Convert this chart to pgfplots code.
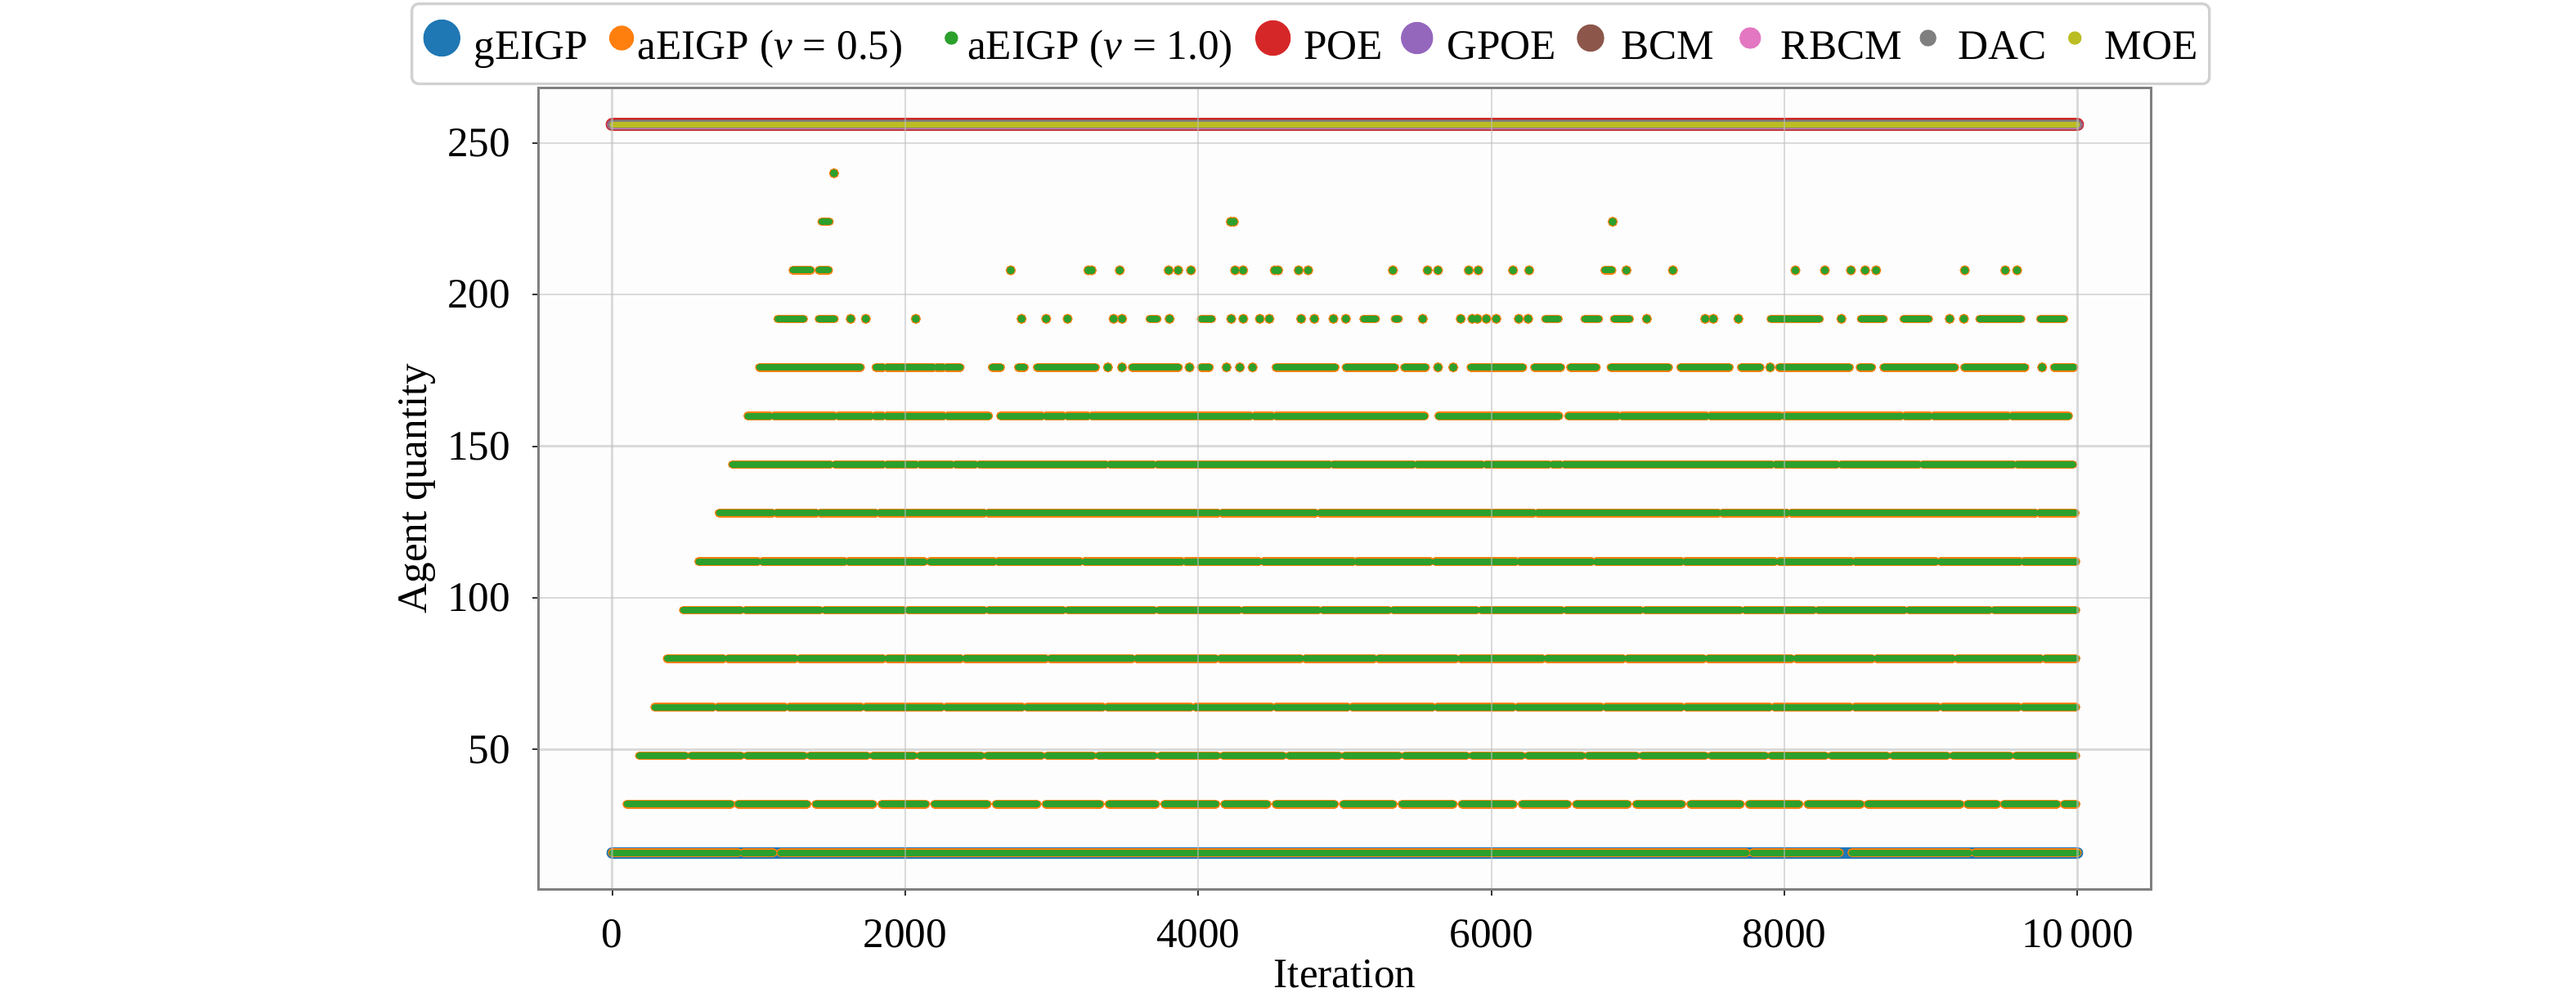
\documentclass[border=0pt]{standalone}
\usepackage{fontspec}
\setmainfont{Liberation Serif}
\usepackage{pgfplots}
\usepackage{pgfplotstable}
\pgfplotsset{compat=1.18}
\definecolor{c0}{HTML}{1F77B4}
\definecolor{c1}{HTML}{FF7F0E}
\definecolor{c2}{HTML}{2CA02C}
\definecolor{c3}{HTML}{D62728}
\definecolor{c4}{HTML}{9467BD}
\definecolor{c5}{HTML}{8C564B}
\definecolor{c6}{HTML}{E377C2}
\definecolor{c7}{HTML}{7F7F7F}
\definecolor{c8}{HTML}{BCBD22}
\pgfplotsset{lgimg/.style n args={4}{legend image code/.code={\path (0pt,0pt) (#1,0pt); \fill[#4] (#2,3.3pt) circle (#3);}}}

% gEIGP (constant at 16)
\pgfplotstableread[row sep=\\]{x y\\ 0 16\\ 10000 16\\}\gtab
% POE, GPOE, BCM, RBCM, DAC, MOE (constant at 256)
\pgfplotstableread[row sep=\\]{x y\\ 0 256\\ 10000 256\\}\toptab
% aEIGP: dense runs of points (start, end of each run)
\pgfplotstableread[row sep=\\]{x y\\
0 16\\ 860 16\\ nan nan\\ 895 16\\ 1100 16\\ nan nan\\ 1150 16\\ 7740 16\\ nan nan\\ 7785 16\\ 8375 16\\ nan nan\\ 8460 16\\ 9260 16\\ nan nan\\ 9300 16\\ 10000 16\\ nan nan\\
100 32\\ 810 32\\ nan nan\\ 860 32\\ 1330 32\\ nan nan\\ 1390 32\\ 1780 32\\ nan nan\\ 1840 32\\ 2140 32\\ nan nan\\ 2200 32\\ 2560 32\\ nan nan\\ 2620 32\\ 2900 32\\ nan nan\\ 2960 32\\ 3330 32\\ nan nan\\ 3390 32\\ 3710 32\\ nan nan\\ 3770 32\\ 4120 32\\ nan nan\\ 4180 32\\ 4470 32\\ nan nan\\ 4530 32\\ 4930 32\\ nan nan\\ 4990 32\\ 5330 32\\ nan nan\\ 5390 32\\ 5740 32\\ nan nan\\ 5800 32\\ 6150 32\\ nan nan\\ 6210 32\\ 6520 32\\ nan nan\\ 6580 32\\ 6930 32\\ nan nan\\ 6990 32\\ 7300 32\\ nan nan\\ 7360 32\\ 7700 32\\ nan nan\\ 7760 32\\ 8100 32\\ nan nan\\ 8160 32\\ 8520 32\\ nan nan\\ 8570 32\\ 9200 32\\ nan nan\\ 9250 32\\ 9450 32\\ nan nan\\ 9500 32\\ 9860 32\\ nan nan\\ 9910 32\\ 9990 32\\ nan nan\\
185 48\\ 500 48\\ nan nan\\ 540 48\\ 880 48\\ nan nan\\ 920 48\\ 1310 48\\ nan nan\\ 1350 48\\ 1740 48\\ nan nan\\ 1780 48\\ 2060 48\\ nan nan\\ 2100 48\\ 2520 48\\ nan nan\\ 2560 48\\ 2930 48\\ nan nan\\ 2970 48\\ 3280 48\\ nan nan\\ 3320 48\\ 3700 48\\ nan nan\\ 3740 48\\ 4130 48\\ nan nan\\ 4170 48\\ 4580 48\\ nan nan\\ 4620 48\\ 4960 48\\ nan nan\\ 5000 48\\ 5370 48\\ nan nan\\ 5410 48\\ 5830 48\\ nan nan\\ 5870 48\\ 6210 48\\ nan nan\\ 6250 48\\ 6620 48\\ nan nan\\ 6660 48\\ 6990 48\\ nan nan\\ 7030 48\\ 7460 48\\ nan nan\\ 7500 48\\ 7870 48\\ nan nan\\ 7910 48\\ 8280 48\\ nan nan\\ 8320 48\\ 8700 48\\ nan nan\\ 8740 48\\ 9110 48\\ nan nan\\ 9150 48\\ 9540 48\\ nan nan\\ 9580 48\\ 9990 48\\ nan nan\\
290 64\\ 690 64\\ nan nan\\ 720 64\\ 1180 64\\ nan nan\\ 1210 64\\ 1700 64\\ nan nan\\ 1730 64\\ 2250 64\\ nan nan\\ 2280 64\\ 2800 64\\ nan nan\\ 2830 64\\ 3350 64\\ nan nan\\ 3380 64\\ 3950 64\\ nan nan\\ 3980 64\\ 4500 64\\ nan nan\\ 4530 64\\ 5020 64\\ nan nan\\ 5050 64\\ 5600 64\\ nan nan\\ 5630 64\\ 6150 64\\ nan nan\\ 6180 64\\ 6750 64\\ nan nan\\ 6780 64\\ 7300 64\\ nan nan\\ 7330 64\\ 7900 64\\ nan nan\\ 7930 64\\ 8450 64\\ nan nan\\ 8480 64\\ 9050 64\\ nan nan\\ 9080 64\\ 9600 64\\ nan nan\\ 9630 64\\ 9990 64\\ nan nan\\
375 80\\ 760 80\\ nan nan\\ 790 80\\ 1250 80\\ nan nan\\ 1280 80\\ 1850 80\\ nan nan\\ 1880 80\\ 2380 80\\ nan nan\\ 2410 80\\ 2960 80\\ nan nan\\ 2990 80\\ 3550 80\\ nan nan\\ 3580 80\\ 4120 80\\ nan nan\\ 4150 80\\ 4700 80\\ nan nan\\ 4730 80\\ 5200 80\\ nan nan\\ 5230 80\\ 5760 80\\ nan nan\\ 5790 80\\ 6350 80\\ nan nan\\ 6380 80\\ 6900 80\\ nan nan\\ 6930 80\\ 7450 80\\ nan nan\\ 7480 80\\ 8050 80\\ nan nan\\ 8080 80\\ 8600 80\\ nan nan\\ 8630 80\\ 9150 80\\ nan nan\\ 9180 80\\ 9750 80\\ nan nan\\ 9780 80\\ 9990 80\\ nan nan\\
485 96\\ 880 96\\ nan nan\\ 910 96\\ 1420 96\\ nan nan\\ 1450 96\\ 1990 96\\ nan nan\\ 2020 96\\ 2540 96\\ nan nan\\ 2570 96\\ 3080 96\\ nan nan\\ 3110 96\\ 3700 96\\ nan nan\\ 3730 96\\ 4280 96\\ nan nan\\ 4310 96\\ 4820 96\\ nan nan\\ 4850 96\\ 5300 96\\ nan nan\\ 5330 96\\ 5900 96\\ nan nan\\ 5930 96\\ 6480 96\\ nan nan\\ 6510 96\\ 7020 96\\ nan nan\\ 7050 96\\ 7700 96\\ nan nan\\ 7730 96\\ 8200 96\\ nan nan\\ 8230 96\\ 8820 96\\ nan nan\\ 8850 96\\ 9400 96\\ nan nan\\ 9430 96\\ 9990 96\\ nan nan\\
590 112\\ 995 112\\ nan nan\\ 1025 112\\ 1588 112\\ nan nan\\ 1613 112\\ 2130 112\\ nan nan\\ 2170 112\\ 2608 112\\ nan nan\\ 2633 112\\ 3195 112\\ nan nan\\ 3225 112\\ 3888 112\\ nan nan\\ 3913 112\\ 4415 112\\ nan nan\\ 4445 112\\ 5058 112\\ nan nan\\ 5083 112\\ 5583 112\\ nan nan\\ 5618 112\\ 6168 112\\ nan nan\\ 6193 112\\ 6685 112\\ nan nan\\ 6715 112\\ 7298 112\\ nan nan\\ 7323 112\\ 7935 112\\ nan nan\\ 7965 112\\ 8458 112\\ nan nan\\ 8483 112\\ 9035 112\\ nan nan\\ 9065 112\\ 9608 112\\ nan nan\\ 9633 112\\ 9990 112\\ nan nan\\
730 128\\ 1095 128\\ nan nan\\ 1120 128\\ 1395 128\\ nan nan\\ 1420 128\\ 1800 128\\ nan nan\\ 1825 128\\ 2540 128\\ nan nan\\ 2565 128\\ 4135 128\\ nan nan\\ 4160 128\\ 4800 128\\ nan nan\\ 4830 128\\ 6290 128\\ nan nan\\ 6315 128\\ 7550 128\\ nan nan\\ 7575 128\\ 8020 128\\ nan nan\\ 8045 128\\ 9715 128\\ nan nan\\ 9740 128\\ 9985 128\\ nan nan\\
820 144\\ 1490 144\\ nan nan\\ 1520 144\\ 1850 144\\ nan nan\\ 1875 144\\ 2075 144\\ nan nan\\ 2100 144\\ 2318 144\\ nan nan\\ 2343 144\\ 2480 144\\ nan nan\\ 2505 144\\ 3370 144\\ nan nan\\ 3395 144\\ 3695 144\\ nan nan\\ 3720 144\\ 4895 144\\ nan nan\\ 4920 144\\ 5468 144\\ nan nan\\ 5493 144\\ 5938 144\\ nan nan\\ 5963 144\\ 6392 144\\ nan nan\\ 6417 144\\ 6473 144\\ nan nan\\ 6498 144\\ 7914 144\\ nan nan\\ 7939 144\\ 8360 144\\ nan nan\\ 8386 144\\ 8918 144\\ nan nan\\ 8943 144\\ 9563 144\\ nan nan\\ 9588 144\\ 9970 144\\ nan nan\\
925 160\\ 1078 160\\ nan nan\\ 1102 160\\ 1518 160\\ nan nan\\ 1542 160\\ 1768 160\\ nan nan\\ 1792 160\\ 1849 160\\ nan nan\\ 1873 160\\ 2264 160\\ nan nan\\ 2288 160\\ 2570 160\\ nan nan\\ 2650 160\\ 2934 160\\ nan nan\\ 2958 160\\ 3080 160\\ nan nan\\ 3104 160\\ 3248 160\\ nan nan\\ 3272 160\\ 4359 160\\ nan nan\\ 4383 160\\ 4505 160\\ nan nan\\ 4529 160\\ 5545 160\\ nan nan\\ 5640 160\\ 6462 160\\ nan nan\\ 6526 160\\ 6865 160\\ nan nan\\ 6889 160\\ 7470 160\\ nan nan\\ 7494 160\\ 7972 160\\ nan nan\\ 7996 160\\ 8798 160\\ nan nan\\ 8822 160\\ 8993 160\\ nan nan\\ 9017 160\\ 9528 160\\ nan nan\\ 9552 160\\ 9940 160\\ nan nan\\
1005 176\\ 1695 176\\ nan nan\\ 1800 176\\ 1850 176\\ nan nan\\ 1875 176\\ 2195 176\\ nan nan\\ 2215 176\\ 2260 176\\ nan nan\\ 2280 176\\ 2375 176\\ nan nan\\ 2594 176\\ 2651 176\\ nan nan\\ 2772 176\\ 2813 176\\ nan nan\\ 2901 176\\ 3299 176\\ nan nan\\ 3549 176\\ 3865 176\\ nan nan\\ 4020 176\\ 4076 176\\ nan nan\\ 4530 176\\ 4934 176\\ nan nan\\ 5008 176\\ 5341 176\\ nan nan\\ 5407 176\\ 5551 176\\ nan nan\\ 5860 176\\ 6215 176\\ nan nan\\ 6294 176\\ 6474 176\\ nan nan\\ 6540 176\\ 6717 176\\ nan nan\\ 6816 176\\ 7210 176\\ nan nan\\ 7292 176\\ 7624 176\\ nan nan\\ 7706 176\\ 7835 176\\ nan nan\\ 7965 176\\ 8444 176\\ nan nan\\ 8516 176\\ 8596 176\\ nan nan\\ 8678 176\\ 9163 176\\ nan nan\\ 9229 176\\ 9642 176\\ nan nan\\ 9841 176\\ 9975 176\\ nan nan\\
1130 192\\ 1307 192\\ nan nan\\ 1411 192\\ 1517 192\\ nan nan\\ 3669 192\\ 3720 192\\ nan nan\\ 4019 192\\ 4092 192\\ nan nan\\ 5128 192\\ 5211 192\\ nan nan\\ 5342 192\\ 5367 192\\ nan nan\\ 6369 192\\ 6458 192\\ nan nan\\ 6637 192\\ 6733 192\\ nan nan\\ 6838 192\\ 6944 192\\ nan nan\\ 7907 192\\ 8240 192\\ nan nan\\ 8523 192\\ 8677 192\\ nan nan\\ 8814 192\\ 8985 192\\ nan nan\\ 9332 192\\ 9616 192\\ nan nan\\ 9747 192\\ 9908 192\\ nan nan\\
1233 208\\ 1355 208\\ nan nan\\ 1411 208\\ 1478 208\\ nan nan\\ 6773 208\\ 6824 208\\ nan nan\\
1430 224\\ 1483 224\\ nan nan\\
}\runs
% aEIGP: isolated points
\pgfplotstableread[row sep=\\]{x y\\
3383 176\\ 3480 176\\ 3940 176\\ 4193 176\\ 4284 176\\ 4371 176\\ 5636 176\\ 5740 176\\ 7903 176\\ 9759 176\\
1628 192\\ 1731 192\\ 2072 192\\ 2794 192\\ 2962 192\\ 3108 192\\ 3422 192\\ 3480 192\\ 3804 192\\ 4225 192\\ 4307 192\\ 4420 192\\ 4485 192\\ 4702 192\\ 4792 192\\ 4922 192\\ 5007 192\\ 5532 192\\ 5791 192\\ 5870 192\\ 5905 192\\ 5966 192\\ 6034 192\\ 6187 192\\ 6251 192\\ 7061 192\\ 7459 192\\ 7515 192\\ 7686 192\\ 8389 192\\ 9128 192\\ 9225 192\\
2720 208\\ 3250 208\\ 3272 208\\ 3464 208\\ 3798 208\\ 3863 208\\ 3950 208\\ 4251 208\\ 4306 208\\ 4522 208\\ 4545 208\\ 4685 208\\ 4750 208\\ 5328 208\\ 5565 208\\ 5636 208\\ 5846 208\\ 5911 208\\ 6148 208\\ 6258 208\\ 6922 208\\ 7239 208\\ 8075 208\\ 8276 208\\ 8454 208\\ 8551 208\\ 8626 208\\ 9231 208\\ 9507 208\\ 9588 208\\
4222 224\\ 4242 224\\ 6828 224\\
1514 240\\
}\pts

\begin{document}
\fontsize{12.3pt}{14pt}\selectfont
\begin{tikzpicture}
\useasboundingbox (-158.16pt,-34.08pt) rectangle (597.84pt,260.88pt);
\begin{axis}[
  scale only axis, width=473.04pt, height=234.96pt,
  xmin=-500, xmax=10500, ymin=4, ymax=268,
  xtick={0,2000,4000,6000,8000,10000},
  xticklabels={0,2000,4000,6000,8000,10\,000},
  ytick={50,100,150,200,250},
  xtick pos=bottom, ytick pos=left,
  /pgf/number format/assume math mode=true,
  tick align=outside, major tick length=1.92pt,
  tick style={color=black!80, line width=0.5pt},
  axis line style={color=black!50, line width=0.72pt},
  grid=major, major grid style={color=black!25, line width=0.55pt, opacity=0.55},
  axis on top,
  axis background/.style={fill=black!0.8},
  xticklabel style={anchor=base, inner sep=0pt, yshift=-15.12pt},
  yticklabel style={anchor=east, inner sep=0pt, xshift=-6.24pt},
  xlabel={Iteration}, ylabel={Agent quantity},
  xlabel style={at={(axis description cs:0.5,-0.1230)}, anchor=base, inner sep=0pt},
  ylabel style={at={(axis description cs:-0.06955,0.5)}, anchor=base, inner sep=0pt},
  unbounded coords=jump,
  legend columns=9,
  legend cell align=left,
  legend style={at={(axis description cs:-0.07966,1.10725)}, anchor=north west,
    draw=black!18, line width=0.8pt, rounded corners=2pt, fill=white,
    inner xsep=3.36pt, inner ysep=4.6pt,
    /tikz/column sep=0pt,
    nodes={inner sep=0pt, text height=8.5pt, text depth=2.6pt}},
]
\addplot[forget plot, c0, line width=3.36pt, line cap=round] table {\gtab};
\addplot[forget plot, c1, line width=2.56pt, line cap=round] table {\runs};
\addplot[forget plot, c1, only marks, mark=*, mark size=1.28pt, mark options={draw=none, fill=c1}] table {\pts};
\addplot[forget plot, c2, line width=1.92pt, line cap=round] table {\runs};
\addplot[forget plot, c2, only marks, mark=*, mark size=0.96pt, mark options={draw=none, fill=c2}] table {\pts};
\addplot[forget plot, c3, line width=3.84pt, line cap=round] table {\toptab};
\addplot[forget plot, c4, line width=3.2pt, line cap=round] table {\toptab};
\addplot[forget plot, c5, line width=2.9pt, line cap=round] table {\toptab};
\addplot[forget plot, c6, line width=2.6pt, line cap=round] table {\toptab};
\addplot[forget plot, c7, line width=2.4pt, line cap=round] table {\toptab};
\addplot[forget plot, c8, line width=1.5pt, line cap=round] table {\toptab};

\addlegendimage{lgimg={14.16pt}{5.04pt}{5.04pt}{c0}}
\addlegendentry{gEIGP}
\addlegendimage{lgimg={13.68pt}{9.36pt}{3.24pt}{c1}}
\addlegendentry{aEIGP (\textit{v} = 0.5)}
\addlegendimage{lgimg={18pt}{13.68pt}{1.56pt}{c2}}
\addlegendentry{aEIGP (\textit{v} = 1.0)}
\addlegendimage{lgimg={19.92pt}{11.28pt}{4.8pt}{c3}}
\addlegendentry{POE}
\addlegendimage{lgimg={18pt}{9.6pt}{4.32pt}{c4}}
\addlegendentry{GPOE}
\addlegendimage{lgimg={18.24pt}{9.6pt}{3.6pt}{c5}}
\addlegendentry{BCM}
\addlegendimage{lgimg={18.72pt}{10.08pt}{2.76pt}{c6}}
\addlegendentry{RBCM}
\addlegendimage{lgimg={15.6pt}{7.2pt}{2.04pt}{c7}}
\addlegendentry{DAC}
\addlegendimage{lgimg={16.32pt}{7.92pt}{1.56pt}{c8}}
\addlegendentry{MOE}
\end{axis}
\end{tikzpicture}
\end{document}
